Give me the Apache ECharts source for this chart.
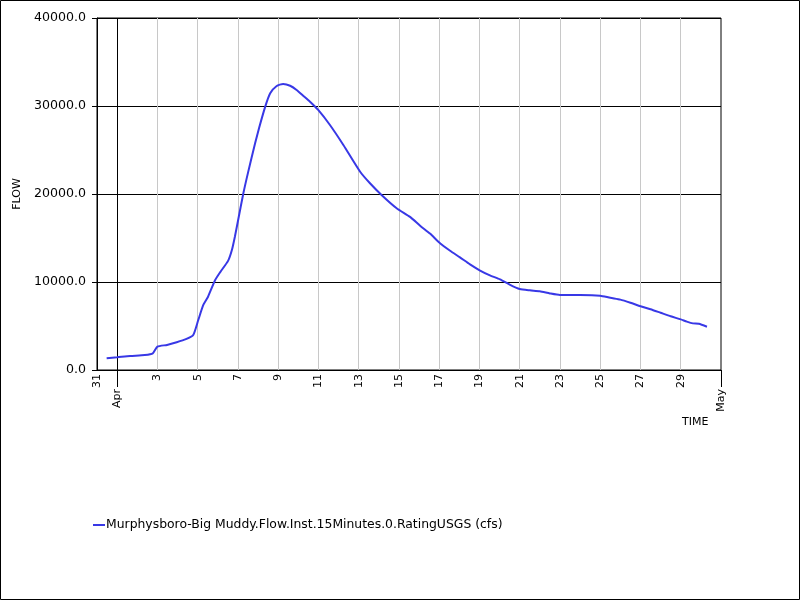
<!DOCTYPE html>
<html>
<head>
<meta charset="utf-8">
<script src="https://cdn.jsdelivr.net/npm/echarts@6/dist/echarts.min.js"></script>
<style>html,body{margin:0;padding:0;background:#fff}#c{width:800px;height:600px}</style>
</head>
<body>
<div id="c"></div>
<script>
// Start of the time axis (Mar 31) and end (May 1)
const axisStart = '2024-03-31T00:00Z';
const axisEnd = '2024-05-01T00:00Z';

const times = [
  '2024-03-31T11:30Z','2024-04-01T00:00Z','2024-04-01T15:30Z','2024-04-02T09:00Z','2024-04-02T18:30Z',
  '2024-04-03T00:00Z','2024-04-03T11:30Z','2024-04-03T23:00Z','2024-04-04T10:00Z','2024-04-04T18:45Z',
  '2024-04-05T00:45Z','2024-04-05T06:45Z','2024-04-05T12:15Z','2024-04-05T20:45Z','2024-04-06T02:45Z',
  '2024-04-06T12:15Z','2024-04-06T17:00Z','2024-04-06T20:30Z','2024-04-07T00:00Z','2024-04-07T06:30Z',
  '2024-04-07T12:00Z','2024-04-07T20:30Z','2024-04-08T01:15Z','2024-04-08T08:30Z','2024-04-08T14:30Z',
  '2024-04-08T22:15Z','2024-04-09T06:00Z','2024-04-09T14:15Z','2024-04-09T22:00Z','2024-04-10T05:30Z',
  '2024-04-10T14:00Z','2024-04-10T23:45Z','2024-04-11T13:45Z','2024-04-12T05:45Z','2024-04-13T01:45Z',
  '2024-04-13T13:30Z','2024-04-14T03:15Z','2024-04-14T21:15Z','2024-04-15T13:15Z','2024-04-16T01:15Z',
  '2024-04-16T13:00Z','2024-04-17T01:00Z','2024-04-17T13:00Z','2024-04-18T00:45Z','2024-04-18T12:45Z',
  '2024-04-19T00:45Z','2024-04-19T12:30Z','2024-04-20T00:30Z','2024-04-20T12:00Z','2024-04-21T00:00Z',
  '2024-04-21T12:00Z','2024-04-22T00:00Z','2024-04-22T12:00Z','2024-04-23T00:00Z','2024-04-24T00:00Z',
  '2024-04-25T00:00Z','2024-04-25T12:00Z','2024-04-26T00:00Z','2024-04-26T12:00Z','2024-04-27T00:00Z',
  '2024-04-27T12:00Z','2024-04-28T00:00Z','2024-04-28T12:00Z','2024-04-29T00:00Z','2024-04-29T07:15Z',
  '2024-04-29T14:30Z','2024-04-29T21:30Z','2024-04-30T07:15Z'
];
const flow = [
  1330,1440,1590,1700,1890,
  2650,2850,3150,3500,3980,
  5680,7390,8300,10200,11100,
  12400,13700,15200,16900,20080,
  22400,25760,27500,29900,31440,
  32270,32500,32300,31820,31200,
  30490,29550,27840,25570,22530,
  21220,19890,18380,17400,16400,
  15500,14400,13550,12800,12000,
  11300,10750,10300,9700,9200,
  9050,8950,8700,8520,8520,
  8450,8200,8000,7650,7250,
  6900,6500,6100,5750,5500,
  5300,5250,4920
];
const yTicks = [0, 10000, 20000, 30000, 40000];
const monthLabels = {1: 'Apr', 31: 'May'};
const seriesName = 'Murphysboro-Big Muddy.Flow.Inst.15Minutes.0.RatingUSGS (cfs)';

const DAY = 86400000;
const t0 = Date.parse(axisStart);
const nDays = (Date.parse(axisEnd) - t0) / DAY;
const data = times.map((t, i) => [(Date.parse(t) - t0) / DAY, flow[i]]);

// day-of-axis -> day label (0 = Mar 31)
function dayLabel(d) {
  if (d === 0) return '31';
  if (d % 2 === 1 && d >= 3 && d <= 29) return String(d);
  return '';
}
const gridColors = [];
for (let d = 0; d <= nDays; d++) {
  if (d === 1) gridColors.push('#000');
  else if (d % 2 === 1 && d < nDays) gridColors.push('#c8c8c8');
  else gridColors.push('rgba(0,0,0,0)');
}

const FONT = 'DejaVu Sans';
const chart = echarts.init(document.getElementById('c'), null, {renderer: 'canvas'});
chart.setOption({
  animation: false,
  backgroundColor: '#fff',
  textStyle: {fontFamily: FONT},
  grid: {left: 97, top: 18, right: 79, bottom: 230, show: true, borderColor: '#000', borderWidth: 1, containLabel: false},
  legend: {
    left: 88, top: 514, itemWidth: 12, itemHeight: 2, itemGap: 10,
    textStyle: {fontFamily: FONT, fontSize: 12.4, color: '#000', padding: [0,0,0,-4]},
    data: [{name: seriesName, icon: 'rect'}]
  },
  xAxis: [{
    type: 'value', min: 0, max: nDays, interval: 1,
    axisLine: {show: true, lineStyle: {color: '#000', width: 1}},
    axisTick: {show: false},
    axisLabel: {show: true, rotate: 90, margin: 4, fontSize: 11, color: '#000', fontFamily: FONT,
      formatter: v => dayLabel(Math.round(v)), showMinLabel: true, showMaxLabel: true},
    splitLine: {show: true, lineStyle: {color: gridColors, width: 1}}
  }, {
    type: 'value', min: 0, max: nDays, position: 'bottom', gridIndex: 0,
    axisLine: {show: false},
    axisTick: {show: true, length: 17, customValues: [1, nDays], lineStyle: {color: '#000'}},
    axisLabel: {show: true, rotate: 90, margin: 19, fontSize: 11, color: '#000', fontFamily: FONT,
      customValues: [1, nDays], formatter: v => monthLabels[Math.round(v)] || ''},
    splitLine: {show: false}
  }],
  yAxis: {
    type: 'value', min: yTicks[0], max: yTicks[yTicks.length - 1], interval: yTicks[1] - yTicks[0],
    name: 'FLOW', nameLocation: 'middle', nameGap: 67,
    nameTextStyle: {fontSize: 11, color: '#000', fontFamily: FONT},
    axisLine: {show: true, lineStyle: {color: '#000'}},
    axisTick: {show: true, length: 5, lineStyle: {color: '#000'}},
    axisLabel: {margin: 11, fontSize: 12.6, color: '#000', fontFamily: FONT, formatter: v => v.toFixed(1)},
    splitLine: {show: true, lineStyle: {color: '#000', width: 1}}
  },
  graphic: [
    {type: 'rect', shape: {x: 0.5, y: 0.5, width: 799, height: 599}, style: {fill: 'none', stroke: '#000', lineWidth: 1}, silent: true},
    {type: 'text', left: 682, top: 417, style: {text: 'TIME', fontFamily: FONT, fontSize: 11, fill: '#000'}}
  ],
  series: [{
    name: seriesName, type: 'line', xAxisIndex: 0, data: data,
    showSymbol: false, symbol: 'none', smooth: 0.2,
    lineStyle: {color: '#3838e6', width: 2}, itemStyle: {color: '#3838e6'}
  }]
});
</script>
</body>
</html>
